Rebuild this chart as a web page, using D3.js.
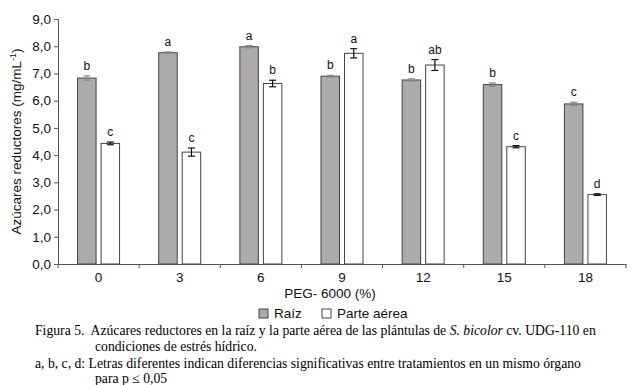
<!DOCTYPE html>
<html>
<head>
<meta charset="utf-8">
<script src="https://cdn.jsdelivr.net/npm/d3@7"></script>
<style>
  body { margin: 0; background: #fff; }
  svg { display: block; }
</style>
</head>
<body>
<div id="chart"></div>
<script>
// data
var peg = ["0", "3", "6", "9", "12", "15", "18"];
var raiz = [6.83, 7.76, 7.98, 6.90, 6.76, 6.59, 5.88];
var raiz_err = [0.08, 0.03, 0.04, 0.03, 0.04, 0.06, 0.06];
var raiz_letters = ["b", "a", "a", "b", "b", "b", "c"];
var aerea = [4.43, 4.11, 6.63, 7.74, 7.31, 4.31, 2.55];
var aerea_err = [0.05, 0.15, 0.12, 0.17, 0.20, 0.04, 0.03];
var aerea_letters = ["c", "c", "b", "a", "ab", "c", "d"];
var y_ticks = [0, 1, 2, 3, 4, 5, 6, 7, 8, 9];

var width = 633, height = 385;
var margin = {left: 58, right: 7, top: 19, bottom: 121};

var svg = d3.select("#chart").append("svg")
    .attr("width", width)
    .attr("height", height);

var x = d3.scaleBand()
    .domain(peg)
    .range([margin.left, width - margin.right]);

var y = d3.scaleLinear()
    .domain([0, 9])
    .range([height - margin.bottom, margin.top]);

var sans = "Arial, 'Liberation Sans', sans-serif";
var serif = "'Times New Roman', 'Liberation Serif', serif";
var axis_color = "#555";
var gray_fill = "#adaaac";

var bar_w = 18.5, gap = 5;

function drawSeries(vals, errs, letters, offset, fill, errColor) {
    var cx = (d, i) => x(peg[i]) + x.bandwidth() / 2 + offset;
    var g = svg.append("g");
    g.selectAll("rect")
        .data(vals)
        .join("rect")
        .attr("x", (d, i) => cx(d, i) - bar_w / 2)
        .attr("y", d => y(d))
        .attr("width", bar_w)
        .attr("height", d => y(0) - y(d))
        .attr("fill", fill)
        .attr("stroke", "#444")
        .attr("stroke-width", 1);
    // error bars
    var eb = g.selectAll("g.err")
        .data(vals)
        .join("g")
        .attr("class", "err")
        .attr("stroke", errColor)
        .attr("stroke-width", 1.2);
    eb.append("line")
        .attr("x1", (d, i) => cx(d, i)).attr("x2", (d, i) => cx(d, i))
        .attr("y1", (d, i) => y(d - errs[i])).attr("y2", (d, i) => y(d + errs[i]));
    eb.append("line")
        .attr("x1", (d, i) => cx(d, i) - 3.5).attr("x2", (d, i) => cx(d, i) + 3.5)
        .attr("y1", (d, i) => y(d + errs[i])).attr("y2", (d, i) => y(d + errs[i]));
    eb.append("line")
        .attr("x1", (d, i) => cx(d, i) - 3.5).attr("x2", (d, i) => cx(d, i) + 3.5)
        .attr("y1", (d, i) => y(d - errs[i])).attr("y2", (d, i) => y(d - errs[i]));
    // significance letters
    g.selectAll("text")
        .data(vals)
        .join("text")
        .attr("x", (d, i) => cx(d, i))
        .attr("y", (d, i) => y(d + errs[i]) - 6)
        .attr("text-anchor", "middle")
        .style("font-family", sans)
        .style("font-size", "12px")
        .attr("fill", "#111")
        .text((d, i) => letters[i]);
}

drawSeries(raiz, raiz_err, raiz_letters, -(bar_w + gap) / 2, gray_fill, "#888");
drawSeries(aerea, aerea_err, aerea_letters, (bar_w + gap) / 2, "#fff", "#111");

// axes
var yAxis = svg.append("g")
    .attr("transform", "translate(" + margin.left + ",0)")
    .call(d3.axisLeft(y).tickValues(y_ticks).tickSize(4).tickPadding(3)
        .tickFormat(d => d3.format(".1f")(d).replace(".", ",")));
yAxis.selectAll("text")
    .style("font-family", sans)
    .style("font-size", "13.5px")
    .attr("fill", "#111");

var xAxis = svg.append("g")
    .attr("transform", "translate(0," + y(0) + ")")
    .call(d3.axisBottom(x).tickSize(0).tickPadding(8));
xAxis.selectAll("text")
    .style("font-family", sans)
    .style("font-size", "13.5px")
    .attr("fill", "#111");
// ticks on the band edges
xAxis.selectAll("line.edge")
    .data(peg.concat(["end"]))
    .join("line")
    .attr("class", "edge")
    .attr("x1", (d, i) => margin.left + i * x.bandwidth())
    .attr("x2", (d, i) => margin.left + i * x.bandwidth())
    .attr("y1", 0).attr("y2", 4)
    .attr("stroke", axis_color);

svg.selectAll(".domain").attr("stroke", axis_color);
svg.selectAll(".tick line").attr("stroke", axis_color);

// axis titles
svg.append("text")
    .attr("transform", "translate(21," + (y(4.5)) + ") rotate(-90)")
    .attr("text-anchor", "middle")
    .style("font-family", sans)
    .style("font-size", "13.5px")
    .attr("fill", "#111")
    .html("Azúcares reductores (mg/mL<tspan dy='-5' font-size='9px'>-1</tspan><tspan dy='5'>)</tspan>");

svg.append("text")
    .attr("x", 330)
    .attr("y", 298)
    .attr("text-anchor", "middle")
    .style("font-family", sans)
    .style("font-size", "13.5px")
    .attr("fill", "#111")
    .text("PEG- 6000 (%)");

// legend
var legend = [
    {label: "Raíz", fill: gray_fill, x: 259},
    {label: "Parte aérea", fill: "#fff", x: 322}
];
var lg = svg.append("g").selectAll("g")
    .data(legend)
    .join("g")
    .attr("transform", d => "translate(" + d.x + ",309)");
lg.append("rect")
    .attr("width", 9).attr("height", 9)
    .attr("fill", d => d.fill)
    .attr("stroke", "#444");
lg.append("text")
    .attr("x", 15).attr("y", 9)
    .style("font-family", sans)
    .style("font-size", "13.5px")
    .attr("fill", "#111")
    .text(d => d.label);

// caption
var cap = svg.append("g")
    .style("font-family", serif)
    .style("font-size", "13.7px")
    .attr("fill", "#000");
cap.append("text").attr("x", 35).attr("y", 335)
    .html("Figura 5.\u00a0 Azúcares reductores en la raíz y la parte aérea de las plántulas de <tspan font-style='italic'>S. bicolor</tspan> cv. UDG-110 en");
cap.append("text").attr("x", 95).attr("y", 351)
    .text("condiciones de estrés hídrico.");
cap.append("text").attr("x", 35).attr("y", 368)
    .text("a, b, c, d: Letras diferentes indican diferencias significativas entre tratamientos en un mismo órgano");
cap.append("text").attr("x", 95).attr("y", 383)
    .text("para p ≤ 0,05");
</script>
</body>
</html>
